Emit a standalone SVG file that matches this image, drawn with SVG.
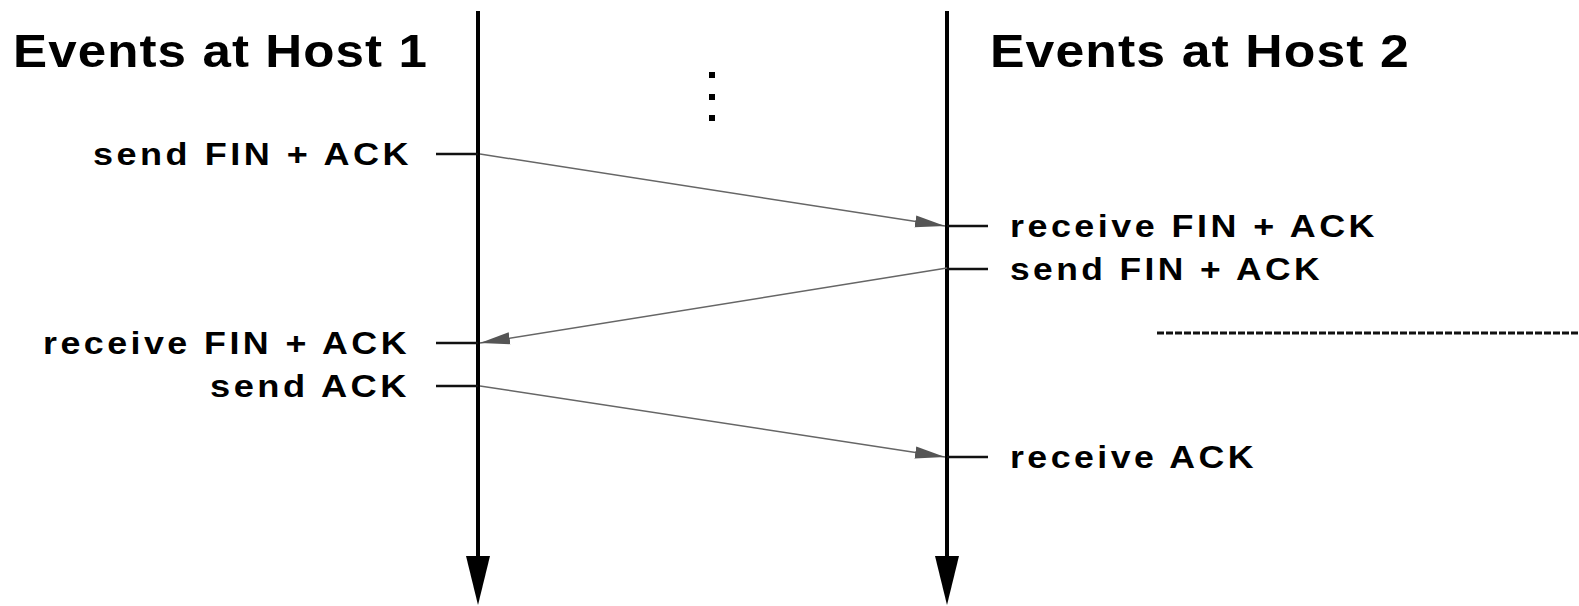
<svg xmlns="http://www.w3.org/2000/svg" width="1579" height="606" viewBox="0 0 1579 606">
<style>
.t{font-family:"Liberation Sans",Arial,sans-serif;font-weight:bold;fill:#000}
.h{font-size:47px;letter-spacing:1px}
.l{font-size:31px;letter-spacing:3px}
.axis{stroke:#000;stroke-width:4;fill:none}
.tick{stroke:#111;stroke-width:2.5}
.msg{stroke:#666;stroke-width:1.5;fill:none}
</style>
<defs>
<marker id="ah" markerWidth="32" markerHeight="14" refX="30" refY="7" orient="auto" markerUnits="userSpaceOnUse">
<path d="M0,1 L30,7 L0,13 Z" fill="#555"/>
</marker>
</defs>
<rect width="1579" height="606" fill="#fff"/>
<g id="host1">
<line class="axis" x1="478" y1="11" x2="478" y2="560"/>
<path d="M466,556 L490,556 L478,605 Z" fill="#000"/>
<text class="t h" x="13" y="67" textLength="415" lengthAdjust="spacingAndGlyphs">Events at Host 1</text>
</g>
<g id="host2">
<line class="axis" x1="947" y1="11" x2="947" y2="560"/>
<path d="M935,556 L959,556 L947,605 Z" fill="#000"/>
<text class="t h" x="990" y="67" textLength="420" lengthAdjust="spacingAndGlyphs">Events at Host 2</text>
</g>
<g id="dots">
<rect x="709" y="72" width="6" height="6" fill="#000"/>
<rect x="709" y="94" width="6" height="6" fill="#000"/>
<rect x="709" y="115" width="6" height="6" fill="#000"/>
</g>
<g id="e1"><line class="tick" x1="436" y1="154" x2="478" y2="154"/><text class="t l" x="93" y="165" textLength="319" lengthAdjust="spacingAndGlyphs">send FIN + ACK</text></g>
<g id="e2"><line class="tick" x1="947" y1="226" x2="988" y2="226"/><text class="t l" x="1010" y="237" textLength="368" lengthAdjust="spacingAndGlyphs">receive FIN + ACK</text></g>
<g id="e3"><line class="tick" x1="947" y1="269" x2="988" y2="269"/><text class="t l" x="1010" y="280" textLength="313" lengthAdjust="spacingAndGlyphs">send FIN + ACK</text></g>
<g id="e4"><line class="tick" x1="436" y1="343" x2="478" y2="343"/><text class="t l" x="43" y="354" textLength="367" lengthAdjust="spacingAndGlyphs">receive FIN + ACK</text></g>
<g id="e5"><line class="tick" x1="436" y1="386" x2="478" y2="386"/><text class="t l" x="210" y="397" textLength="200" lengthAdjust="spacingAndGlyphs">send ACK</text></g>
<g id="e6"><line class="tick" x1="947" y1="457" x2="988" y2="457"/><text class="t l" x="1010" y="468" textLength="247" lengthAdjust="spacingAndGlyphs">receive ACK</text></g>
<g id="dashed"><line x1="1157" y1="333" x2="1579" y2="333" stroke="#111" stroke-width="3" stroke-dasharray="7 2"/></g>
<g id="connectors">
<line class="msg" x1="480" y1="154" x2="945" y2="226" marker-end="url(#ah)"/>
<line class="msg" x1="947" y1="268" x2="480" y2="343" marker-end="url(#ah)"/>
<line class="msg" x1="480" y1="386" x2="945" y2="457" marker-end="url(#ah)"/>
</g>
</svg>
